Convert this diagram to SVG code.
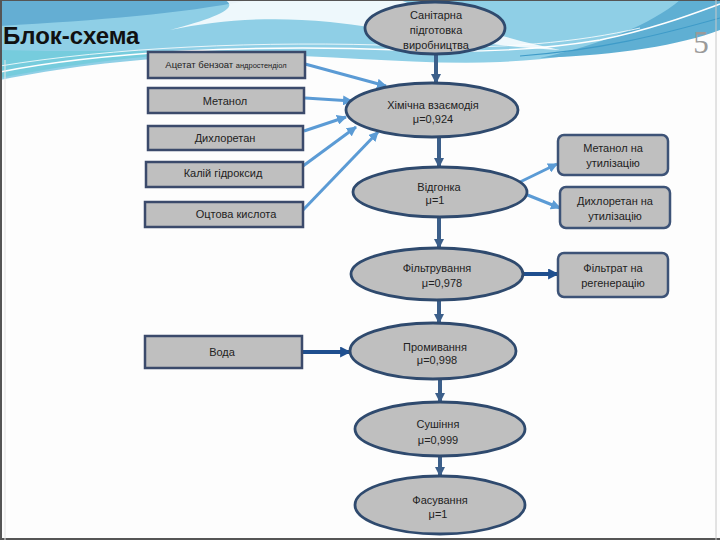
<svg xmlns="http://www.w3.org/2000/svg" width="720" height="540" viewBox="0 0 720 540">
<defs>
<style>
.box{fill:#BFBFBF;stroke:#3B4A6B;stroke-width:2.5}
.rbox{fill:#BFBFBF;stroke:#3D5377;stroke-width:2.5}
.ell{fill:#BFBFBF;stroke:#2F4A6E;stroke-width:2.8}
.t{font-family:"Liberation Sans",Arial,sans-serif;font-size:11px;fill:#222;text-anchor:middle}
.lb{stroke:#5B9BD5;stroke-width:3;fill:none}
.dv{stroke:#3C5F8A;stroke-width:4;fill:none}
.dh{stroke:#1F4F8F;stroke-width:4;fill:none}
</style>
<marker id="mL" viewBox="0 0 10 10" refX="9" refY="5" markerWidth="10" markerHeight="10" markerUnits="userSpaceOnUse" orient="auto"><path d="M0,0 L10,5 L0,10 Z" fill="#5B9BD5"/></marker>
<marker id="mV" viewBox="0 0 10 10" refX="9" refY="5" markerWidth="10" markerHeight="11" markerUnits="userSpaceOnUse" orient="auto"><path d="M0,0 L10,5 L0,10 Z" fill="#3C5F8A"/></marker>
<marker id="mH" viewBox="0 0 10 10" refX="9" refY="5" markerWidth="11" markerHeight="11" markerUnits="userSpaceOnUse" orient="auto"><path d="M0,0 L10,5 L0,10 Z" fill="#1F4F8F"/></marker>
</defs>
<rect width="720" height="540" fill="#FDFDFD"/>
<g id="background">
<path d="M0,0 H720 V12 C660,40 590,58 500,62 C400,66 300,50 200,56 C120,60 60,68 0,80 Z" fill="#8FCFE6"/>
<path d="M0,0 H250 C180,14 100,20 0,26 Z" fill="#64AED3"/>
<path d="M0,50 C60,52 120,50 200,52 C120,58 60,66 0,78 Z" fill="#76CCDD"/>
<path d="M225,0 H400 C450,20 500,38 560,50 C470,45 400,30 330,22 C270,16 220,20 170,30 C215,18 240,8 225,0 Z" fill="#FFFFFF" opacity="0.85"/>
<path d="M560,0 H720 V30 C680,45 620,55 540,58 C600,45 650,25 680,0 Z" fill="#5FAFD3"/>
<path d="M0,72 C100,52 250,44 400,50 C480,53 540,50 600,40 C650,30 690,15 720,4" fill="none" stroke="#FFFFFF" stroke-width="1.5"/>
<path d="M0,66 C110,48 260,40 410,46 C500,50 580,42 640,28" fill="none" stroke="#FFFFFF" stroke-width="1" opacity="0.8"/>
<path d="M520,56 C600,50 660,35 720,18" fill="none" stroke="#3E9BC8" stroke-width="1.2"/>
<line x1="1" y1="0" x2="1" y2="540" stroke="#555" stroke-width="2"/>
<line x1="0" y1="539" x2="720" y2="539" stroke="#555" stroke-width="2"/>
<line x1="0" y1="0.5" x2="720" y2="0.5" stroke="#555" stroke-width="1"/>
<line x1="716" y1="0" x2="716" y2="540" stroke="#C8C8C8" stroke-width="1"/>
<line x1="5" y1="60" x2="5" y2="540" stroke="#E4E4E4" stroke-width="1"/>
</g>
<text x="3" y="44" font-family="Liberation Sans,Arial,sans-serif" font-size="24" font-weight="bold" fill="#111">Блок-схема</text>
<text x="701" y="53" font-family="Liberation Serif,serif" font-size="31" fill="#9A9A9A" text-anchor="middle">5</text>
<g id="connectors">
<line class="dv" x1="436" y1="54" x2="436" y2="83" marker-end="url(#mV)"/>
<line class="dv" x1="439" y1="137" x2="439" y2="167" marker-end="url(#mV)"/>
<line class="dv" x1="439" y1="217" x2="439" y2="248" marker-end="url(#mV)"/>
<line class="dv" x1="439" y1="300" x2="439" y2="323" marker-end="url(#mV)"/>
<line class="dv" x1="440" y1="379" x2="440" y2="402" marker-end="url(#mV)"/>
<line class="dv" x1="440" y1="456" x2="440" y2="476" marker-end="url(#mV)"/>
<line class="lb" x1="305" y1="64" x2="386" y2="86" marker-end="url(#mL)"/>
<line class="lb" x1="305" y1="98" x2="352" y2="101" marker-end="url(#mL)"/>
<line class="lb" x1="304" y1="131" x2="346" y2="117" marker-end="url(#mL)"/>
<line class="lb" x1="303" y1="166" x2="356" y2="127" marker-end="url(#mL)"/>
<line class="lb" x1="303" y1="210" x2="378" y2="132" marker-end="url(#mL)"/>
<line class="lb" x1="520" y1="182" x2="557" y2="164" marker-end="url(#mL)"/>
<line class="lb" x1="525" y1="194" x2="560" y2="208" marker-end="url(#mL)"/>
<line class="dh" x1="523" y1="274" x2="558" y2="274" marker-end="url(#mH)"/>
<line class="dh" x1="302" y1="352" x2="350" y2="352" marker-end="url(#mH)"/>
</g>
<g id="san"><ellipse class="ell" cx="435" cy="28" rx="70" ry="26"/>
<text class="t" x="436" y="19">Санітарна</text><text class="t" x="436" y="34">підготовка</text><text class="t" x="436" y="49">виробництва</text></g>
<g id="him"><ellipse class="ell" cx="432" cy="110" rx="86" ry="27"/>
<text class="t" x="433" y="109">Хімічна взаємодія</text><text class="t" x="433" y="123">μ=0,924</text></g>
<g id="vid"><ellipse class="ell" cx="440" cy="192" rx="87" ry="25"/>
<text class="t" x="439" y="191">Відгонка</text><text class="t" x="435" y="204">μ=1</text></g>
<g id="fil"><ellipse class="ell" cx="437" cy="274" rx="86" ry="26"/>
<text class="t" x="437" y="272">Фільтрування</text><text class="t" x="442" y="287">μ=0,978</text></g>
<g id="prom"><ellipse class="ell" cx="433" cy="351" rx="83" ry="28"/>
<text class="t" x="435" y="351">Промивання</text><text class="t" x="437" y="364">μ=0,998</text></g>
<g id="sush"><ellipse class="ell" cx="440" cy="429" rx="85" ry="27"/>
<text class="t" x="438" y="428">Сушіння</text><text class="t" x="438" y="444">μ=0,999</text></g>
<g id="fas"><ellipse class="ell" cx="440" cy="505" rx="85" ry="29"/>
<text class="t" x="440" y="504">Фасування</text><text class="t" x="438" y="518">μ=1</text></g>
<g id="acet"><rect class="box" x="148" y="52" width="157" height="26"/>
<text class="t" x="226" y="68"><tspan font-size="9.5">Ацетат бензоат </tspan><tspan font-size="7.5">андростендіол</tspan></text></g>
<g id="met"><rect class="box" x="148" y="88" width="156" height="25"/><text class="t" x="225" y="105">Метанол</text></g>
<g id="dich"><rect class="box" x="148" y="126" width="155" height="24"/><text class="t" x="225" y="142">Дихлоретан</text></g>
<g id="kal"><rect class="box" x="146" y="162" width="157" height="25"/><text class="t" x="223" y="177">Калій гідроксид</text></g>
<g id="oct"><rect class="box" x="145" y="202" width="158" height="25"/><text class="t" x="236" y="218">Оцтова кислота</text></g>
<g id="voda"><rect class="box" x="145" y="336" width="157" height="32"/><text class="t" x="222" y="356">Вода</text></g>
<g id="metut"><rect class="rbox" x="558" y="135" width="110" height="40" rx="6"/>
<text class="t" x="613" y="152">Метанол на</text><text class="t" x="613" y="167">утилізацію</text></g>
<g id="dichut"><rect class="rbox" x="560" y="187" width="110" height="41" rx="6"/>
<text class="t" x="615" y="205">Дихлоретан на</text><text class="t" x="615" y="220">утилізацію</text></g>
<g id="filtr"><rect class="rbox" x="558" y="253" width="110" height="44" rx="6"/>
<text class="t" x="613" y="272">Фільтрат на</text><text class="t" x="613" y="287">регенерацію</text></g>
</svg>
